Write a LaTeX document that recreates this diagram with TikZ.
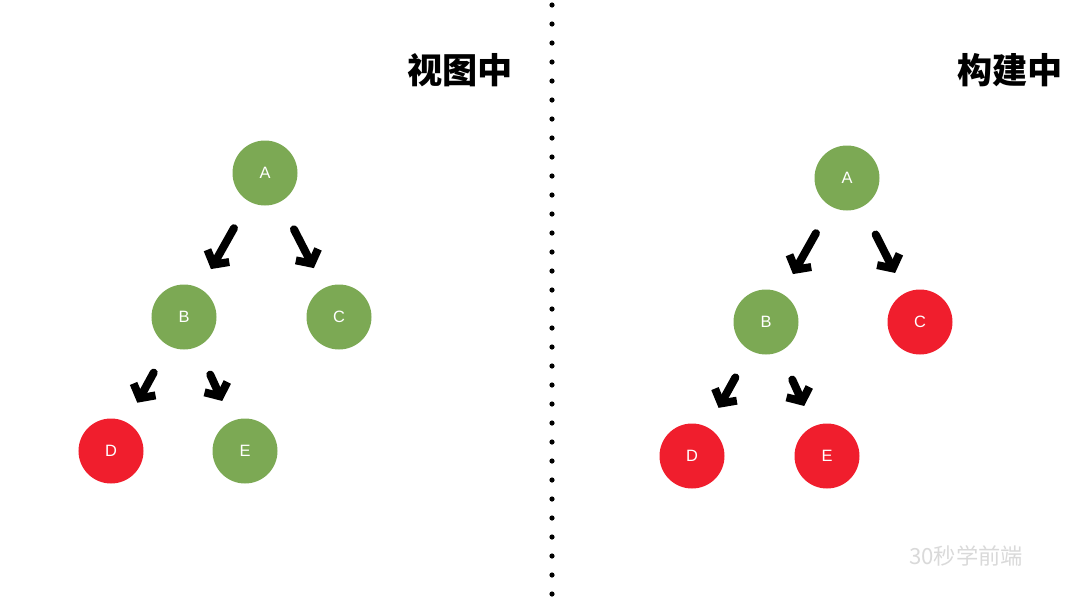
\documentclass[tikz,border=0pt]{standalone}
\usepackage{fontspec}
\setsansfont{Liberation Sans}
\newfontfamily\cjk{Noto Sans CJK SC}
\usetikzlibrary{arrows.meta}
\definecolor{leafG}{RGB}{124,169,84}
\definecolor{leafR}{RGB}{240,30,45}
\begin{document}
\begin{tikzpicture}[x=0.03cm, y=-0.03cm,
    vnode/.style={circle, minimum size=1.95cm, inner sep=0pt,
                  font=\sffamily\fontsize{14}{14}\selectfont, text=white},
    ok/.style={vnode, fill=leafG},
    bad/.style={vnode, fill=leafR},
    arrow/.style={line width=0.24cm, line cap=round, line join=round,
                  -{Straight Barb[length=0.3cm, width=0.75cm]},
                  shorten <=1.9cm, shorten >=1.65cm},
    title/.style={font=\cjk\bfseries\fontsize{30}{30}\selectfont, anchor=east}
]
\useasboundingbox (0,0) rectangle (1080,605);

% separator
\foreach \y in {5,24,...,605}
  \fill (552,\y) circle (2.6);

% left tree
\node[title] (t1) at (517,70) {视图中};
\node[ok]  (a1) at (265,173) {A};
\node[ok]  (b1) at (184,317) {B};
\node[ok]  (c1) at (339,317) {C};
\node[bad] (d1) at (111,451) {D};
\node[ok]  (e1) at (245,451) {E};
\foreach \u/\v in {a1/b1, a1/c1, b1/d1, b1/e1}
  \draw[arrow] (\u.center) -- (\v.center);

% right tree
\node[title] (t2) at (1067,70) {构建中};
\node[ok]  (a2) at (847,178) {A};
\node[ok]  (b2) at (766,322) {B};
\node[bad] (c2) at (920,322) {C};
\node[bad] (d2) at (692,456) {D};
\node[bad] (e2) at (827,456) {E};
\foreach \u/\v in {a2/b2, a2/c2, b2/d2, b2/e2}
  \draw[arrow] (\u.center) -- (\v.center);

\node[text=black!15, font=\cjk\fontsize{19}{19}\selectfont, anchor=west] (wm) at (905,556) {30秒学前端};
\end{tikzpicture}
\end{document}
